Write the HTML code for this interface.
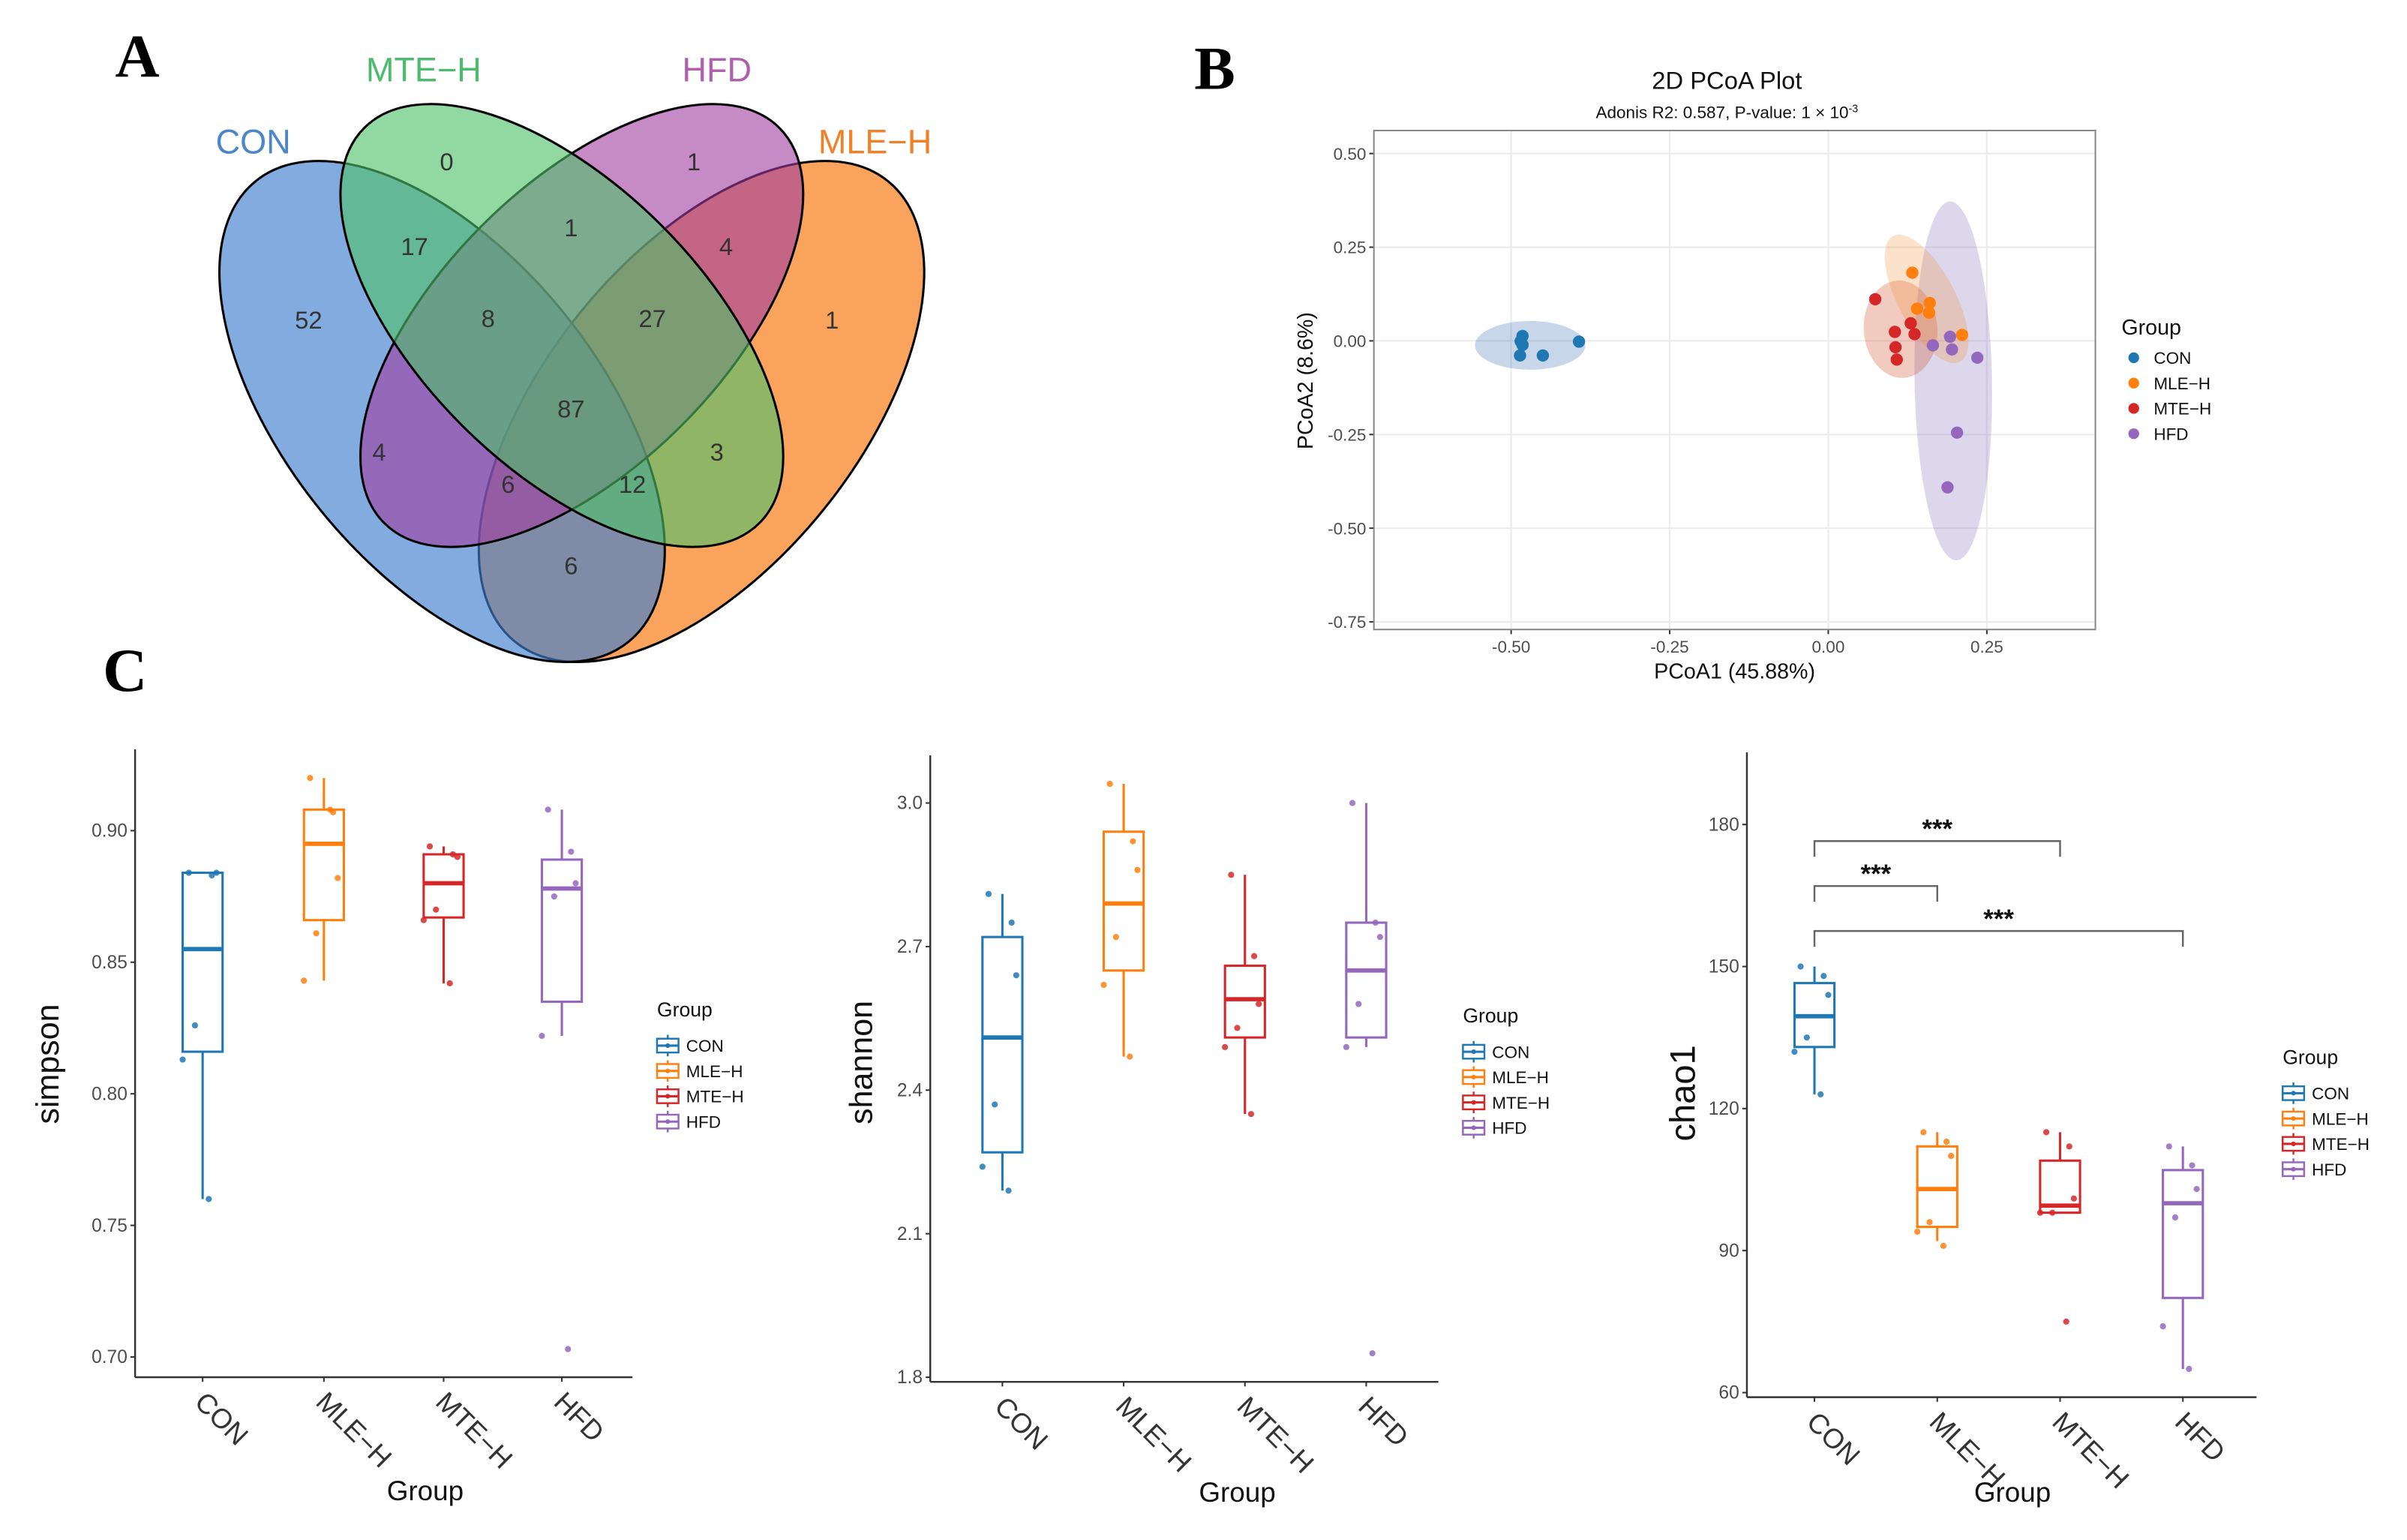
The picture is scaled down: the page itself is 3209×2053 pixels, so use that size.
<!DOCTYPE html>
<html><head><meta charset="utf-8"><style>
html,body{margin:0;padding:0;background:#fff;}
svg{display:block;font-family:"Liberation Sans",Arial,sans-serif;}
</style></head><body>
<svg id="fig" xmlns="http://www.w3.org/2000/svg" width="3209" height="2053" viewBox="0 0 1568 1003" preserveAspectRatio="none">
<rect x="0" y="0" width="1568" height="1003" fill="#fff"/>
<g id="venn">
  <text x="75" y="50" font-family="Liberation Serif,serif" font-weight="bold" font-size="40">A</text>
  <ellipse cx="457" cy="268" rx="193" ry="102" transform="rotate(-51 457 268)" fill="#f7801f" fill-opacity="0.72" stroke="#000" stroke-width="1.5"/>
  <ellipse cx="288" cy="268" rx="193" ry="102" transform="rotate(51 288 268)" fill="#3f7fd0" fill-opacity="0.65" stroke="#000" stroke-width="1.5"/>
  <ellipse cx="379" cy="212" rx="182" ry="92" transform="rotate(-45 379 212)" fill="#a03ca0" fill-opacity="0.6" stroke="#000" stroke-width="1.5"/>
  <ellipse cx="366" cy="212" rx="182" ry="92" transform="rotate(45 366 212)" fill="#4fc06a" fill-opacity="0.62" stroke="#000" stroke-width="1.5"/>
  <g font-size="16" fill="#333" text-anchor="middle">
    <text x="201" y="214">52</text><text x="291" y="111">0</text><text x="452" y="111">1</text><text x="542" y="214">1</text>
    <text x="270" y="166">17</text><text x="372" y="154">1</text><text x="473" y="166">4</text>
    <text x="318" y="213">8</text><text x="425" y="213">27</text><text x="372" y="272">87</text>
    <text x="247" y="300">4</text><text x="467" y="300">3</text><text x="331" y="321">6</text><text x="412" y="321">12</text><text x="372" y="374">6</text>
  </g>
  <text x="165" y="100" font-size="22" fill="#4a86c8" text-anchor="middle">CON</text>
  <text x="276" y="53" font-size="22" fill="#4dbb6e" text-anchor="middle">MTE−H</text>
  <text x="467" y="53" font-size="22" fill="#b05fae" text-anchor="middle">HFD</text>
  <text x="570" y="100" font-size="22" fill="#f0812a" text-anchor="middle">MLE−H</text>
</g>
<g id="pcoa"></g>
<g id="boxes"></g>
</svg>
<script>
const NS='http://www.w3.org/2000/svg';
const groups=['CON','MLE-H','MTE-H','HFD'];
const groupLabels=['CON','MLE−H','MTE−H','HFD'];
const colors=['#1f77b4','#ff7f0e','#d62728','#9467bd'];

// PCoA data
const pcoaXTicks=[-0.5,-0.25,0,0.25];
const pcoaXTickLabels=['-0.50','-0.25','0.00','0.25'];
const pcoaYTicks=[0.5,0.25,0,-0.25,-0.5,-0.75];
const pcoaYTickLabels=['0.50','0.25','0.00','-0.25','-0.50','-0.75'];
const conX=[-0.482,-0.485,-0.482,-0.486,-0.45,-0.393];
const conY=[0.013,-0.001,-0.011,-0.039,-0.039,-0.002];
const mleX=[0.1325,0.160,0.140,0.159,0.211];
const mleY=[0.182,0.101,0.086,0.075,0.016];
const mteX=[0.074,0.130,0.105,0.136,0.106,0.108];
const mteY=[0.111,0.047,0.024,0.018,-0.017,-0.050];
const hfdX=[0.192,0.165,0.195,0.235,0.203,0.188];
const hfdY=[0.011,-0.012,-0.023,-0.045,-0.245,-0.391];
const ellCX=[-0.47,0.155,0.114,0.197];
const ellCY=[-0.012,0.112,0.031,-0.107];
const ellRX=[0.087,0.045,0.058,0.061];
const ellRY=[0.065,0.19,0.13,0.479];
const ellAng=[0,-28,-4,-1];

// Simpson
const simpsonTicks=[0.90,0.85,0.80,0.75,0.70];
const simpsonTickLabels=['0.90','0.85','0.80','0.75','0.70'];
const simpsonMin=[0.760,0.843,0.842,0.822];
const simpsonQ1=[0.816,0.866,0.867,0.835];
const simpsonMed=[0.855,0.895,0.880,0.878];
const simpsonQ3=[0.884,0.908,0.891,0.889];
const simpsonMax=[0.884,0.920,0.894,0.908];
const simpsonPts=[[0.884,0.883,0.884,0.826,0.813,0.760],[0.920,0.907,0.882,0.861,0.843,0.908],[0.894,0.891,0.890,0.870,0.866,0.842],[0.908,0.892,0.880,0.875,0.822,0.703]];
// Shannon
const shannonTicks=[3.0,2.7,2.4,2.1,1.8];
const shannonTickLabels=['3.0','2.7','2.4','2.1','1.8'];
const shannonMin=[2.19,2.47,2.35,2.49];
const shannonQ1=[2.27,2.65,2.51,2.51];
const shannonMed=[2.51,2.79,2.59,2.65];
const shannonQ3=[2.72,2.94,2.66,2.75];
const shannonMax=[2.81,3.04,2.85,3.00];
const shannonPts=[[2.81,2.75,2.64,2.37,2.24,2.19],[3.04,2.92,2.86,2.72,2.62,2.47],[2.85,2.68,2.58,2.53,2.49,2.35],[3.00,2.75,2.72,2.58,2.49,1.85]];
// Chao1
const chaoTicks=[180,150,120,90,60];
const chaoTickLabels=['180','150','120','90','60'];
const chaoMin=[123,92,98,65];
const chaoQ1=[133,95,98,80];
const chaoMed=[139.5,103,99.5,100];
const chaoQ3=[146.5,112,109,107];
const chaoMax=[150,115,115,112];
const chaoPts=[[150,148,144,135,132,123],[115,113,110,96,94,91],[115,112,101,98,98,75],[112,108,103,97,74,65]];
const sigFrom=[0,0,0];
const sigTo=[2,1,3];
const sigLevel=[176.5,167,157.5];
const sigLabel=['***','***','***'];

function mk(tag,attrs,parent){const e=document.createElementNS(NS,tag);for(const k in attrs)e.setAttribute(k,attrs[k]);if(parent)parent.appendChild(e);return e;}
function txt(parent,x,y,s,attrs){const t=mk('text',Object.assign({x:x,y:y},attrs||{}),parent);t.textContent=s;return t;}

// ---------- PCoA ----------
(function(){
  const g=document.getElementById('pcoa');
  const L=895,R=1365,T=85,B=410;
  const sx=v=>1191+v/0.25*103.3;
  const sy=v=>222-v/0.25*61;
  const lbl=txt(g,778,58,'B',{'font-family':'Liberation Serif,serif','font-weight':'bold','font-size':'40'});
  
  const t1=txt(g,1125,58,'2D PCoA Plot',{'font-size':'16','text-anchor':'middle','fill':'#111'});
  
  const t2=txt(g,1125,77,'Adonis R2: 0.587, P-value: 1 × 10',{'font-size':'11','text-anchor':'middle','fill':'#111'});
  
  const sup=mk('tspan',{dy:'-4','font-size':'7'},t2);sup.textContent='-3';
  mk('rect',{x:L,y:T,width:R-L,height:B-T,fill:'#fff'},g);
  pcoaXTicks.forEach((v,i)=>{const gl=mk('line',{x1:sx(v),x2:sx(v),y1:T,y2:B,stroke:'#ebebeb','stroke-width':1},g);
    mk('line',{x1:sx(v),x2:sx(v),y1:B,y2:B+3,stroke:'#333'},g);
    const tl=txt(g,sx(v),B+15,pcoaXTickLabels[i],{'font-size':'11','text-anchor':'middle','fill':'#4d4d4d'});});
  pcoaYTicks.forEach((v,i)=>{const gl=mk('line',{x1:L,x2:R,y1:sy(v),y2:sy(v),stroke:'#ebebeb','stroke-width':1},g);
    mk('line',{x1:L-3,x2:L,y1:sy(v),y2:sy(v),stroke:'#333'},g);
    const tl=txt(g,L-5,sy(v)+4,pcoaYTickLabels[i],{'font-size':'11','text-anchor':'end','fill':'#4d4d4d'});});
  const efill=['#1f5aa8','#f58a2a','#d2542b','#8f7bc0'];
  const eop=[0.25,0.25,0.3,0.3];
  const order=[0,3,2,1];
  order.forEach(i=>{const cx=sx(ellCX[i]),cy=sy(ellCY[i]);
    const e=mk('ellipse',{cx:cx,cy:cy,rx:ellRX[i]/0.25*103.3,ry:ellRY[i]/0.25*61,transform:'rotate('+ellAng[i]+' '+cx+' '+cy+')',fill:efill[i],'fill-opacity':eop[i]},g);
    });
  const xs=[conX,mleX,mteX,hfdX],ys=[conY,mleY,mteY,hfdY];
  xs.forEach((arr,gi)=>arr.forEach((v,j)=>{const c=mk('circle',{cx:sx(v),cy:sy(ys[gi][j]),r:4,fill:colors[gi]},g);
    }));
  mk('rect',{x:L,y:T,width:R-L,height:B-T,fill:'none',stroke:'#888','stroke-width':1},g);
  const xt=txt(g,1130,442,'PCoA1 (45.88%)',{'font-size':'14','text-anchor':'middle','fill':'#111'});
  const yt=txt(g,0,0,'PCoA2 (8.6%)',{'font-size':'14','text-anchor':'middle','fill':'#111',transform:'translate(855 248) rotate(-90)'});
  const lt=txt(g,1382,218,'Group',{'font-size':'14','fill':'#111'});
  groups.forEach((n,i)=>{const y=233+i*16.5;const lg=mk('g',{},g);
    mk('circle',{cx:1390,cy:y,r:3.5,fill:colors[i]},lg);txt(lg,1403,y+4,groupLabels[i],{'font-size':'11','fill':'#111'});});
})();

// ---------- Boxplots ----------
const jitter=[-9,6,9,-5,-13,4];
function boxPanel(cfg){
  const g=mk('g',{},document.getElementById('boxes'));
  
  const y=cfg.scale;
  mk('line',{x1:cfg.ax,x2:cfg.ax,y1:cfg.top,y2:cfg.bottom,stroke:'#333','stroke-width':1.2},g);
  mk('line',{x1:cfg.ax,x2:cfg.right,y1:cfg.bottom,y2:cfg.bottom,stroke:'#333','stroke-width':1.2},g);
  cfg.ticks.forEach((v,i)=>{mk('line',{x1:cfg.ax-3,x2:cfg.ax,y1:y(v),y2:y(v),stroke:'#333'},g);
    const tl=txt(g,cfg.ax-5,y(v)+4,cfg.tickLabels[i],{'font-size':'12','text-anchor':'end','fill':'#4d4d4d'});
    });
  cfg.cats.forEach((cx,i)=>{mk('line',{x1:cx,x2:cx,y1:cfg.bottom,y2:cfg.bottom+3,stroke:'#333'},g);
    const tl=txt(g,0,0,groupLabels[i],{'font-size':'18','fill':'#333',transform:'translate('+(cx+3)+' '+(cfg.bottom+8)+') rotate(45)','dominant-baseline':'hanging'});
    
    const c=colors[i],hw=13;
    const bg=mk('g',{},g);
    mk('line',{x1:cx,x2:cx,y1:y(cfg.max[i]),y2:y(cfg.q3[i]),stroke:c,'stroke-width':1.5},bg);
    mk('line',{x1:cx,x2:cx,y1:y(cfg.q1[i]),y2:y(cfg.min[i]),stroke:c,'stroke-width':1.5},bg);
    mk('rect',{x:cx-hw,y:y(cfg.q3[i]),width:2*hw,height:y(cfg.q1[i])-y(cfg.q3[i]),fill:'#fff',stroke:c,'stroke-width':1.5},bg);
    mk('line',{x1:cx-hw,x2:cx+hw,y1:y(cfg.med[i]),y2:y(cfg.med[i]),stroke:c,'stroke-width':2.8},bg);
    cfg.pts[i].forEach((v,j)=>{const p=mk('circle',{cx:cx+jitter[j],cy:y(v),r:2,fill:c,'fill-opacity':0.85},bg);
      });
  });
  const xt=txt(g,cfg.gx,cfg.gy,'Group',{'font-size':'18','text-anchor':'middle','fill':'#111'});
  
  const yt=txt(g,0,0,cfg.ylab,{'font-size':cfg.ylabSize,'text-anchor':'middle','fill':'#111',transform:'translate('+cfg.ylx+' '+cfg.yly+') rotate(-90)'});
  
  const lt=txt(g,cfg.lx,cfg.ly,'Group',{'font-size':'13','fill':'#111'});
  
  groups.forEach((n,i)=>{const yy=cfg.ly+19+i*16.5;const lg=mk('g',{},g);
    
    mk('line',{x1:cfg.lx+7,x2:cfg.lx+7,y1:yy-7,y2:yy+7,stroke:colors[i],'stroke-width':1.2},lg);
    mk('rect',{x:cfg.lx,y:yy-4.5,width:14,height:9,fill:'#fff',stroke:colors[i],'stroke-width':1.2},lg);
    mk('line',{x1:cfg.lx,x2:cfg.lx+14,y1:yy,y2:yy,stroke:colors[i],'stroke-width':1.5},lg);
    mk('circle',{cx:cfg.lx+7,cy:yy,r:1.5,fill:colors[i]},lg);
    txt(lg,cfg.lx+19,yy+4,groupLabels[i],{'font-size':'11','fill':'#111'});});
  return g;
}
const cLbl=txt(document.getElementById('boxes'),67,450,'C',{'font-family':'Liberation Serif,serif','font-weight':'bold','font-size':'40'});


boxPanel({name:'simpson-boxplot',ax:88,right:412,top:488,bottom:897,scale:v=>541+(0.90-v)/0.05*85.7,
  ticks:simpsonTicks,tickLabels:simpsonTickLabels,cats:[132,211,289,366],
  min:simpsonMin,q1:simpsonQ1,med:simpsonMed,q3:simpsonQ3,max:simpsonMax,pts:simpsonPts,
  gx:277,gy:977,ylab:'simpson',ylabSize:'21',ylx:38,yly:693,lx:428,ly:662});
boxPanel({name:'shannon-boxplot',ax:606,right:937,top:492,bottom:900,scale:v=>523+(3.0-v)/0.3*93.5,
  ticks:shannonTicks,tickLabels:shannonTickLabels,cats:[653,732,811,890],
  min:shannonMin,q1:shannonQ1,med:shannonMed,q3:shannonQ3,max:shannonMax,pts:shannonPts,
  gx:806,gy:978,ylab:'shannon',ylabSize:'21',ylx:568,yly:692,lx:953,ly:666});
const chaoScale=v=>537+(180-v)/30*92.5;
const chaoCats=[1182,1262,1342,1422];
const cg=boxPanel({name:'chao1-boxplot',ax:1138,right:1470,top:490,bottom:910,scale:chaoScale,
  ticks:chaoTicks,tickLabels:chaoTickLabels,cats:chaoCats,
  min:chaoMin,q1:chaoQ1,med:chaoMed,q3:chaoQ3,max:chaoMax,pts:chaoPts,
  gx:1311,gy:978,ylab:'chao1',ylabSize:'23',ylx:1104,yly:712,lx:1487,ly:693});
sigLevel.forEach((lv,i)=>{const x1=chaoCats[sigFrom[i]],x2=chaoCats[sigTo[i]],yv=chaoScale(lv),yd=chaoScale(lv-3.3);
  const b=mk('path',{d:'M'+x1+' '+yd+'V'+yv+'H'+x2+'V'+yd,fill:'none',stroke:'#666','stroke-width':1.2},cg);
  
  const s=txt(cg,(x1+x2)/2,yv-2,sigLabel[i],{'font-size':'17','font-weight':'bold','text-anchor':'middle','fill':'#111'});
  });
</script>
</body></html>
